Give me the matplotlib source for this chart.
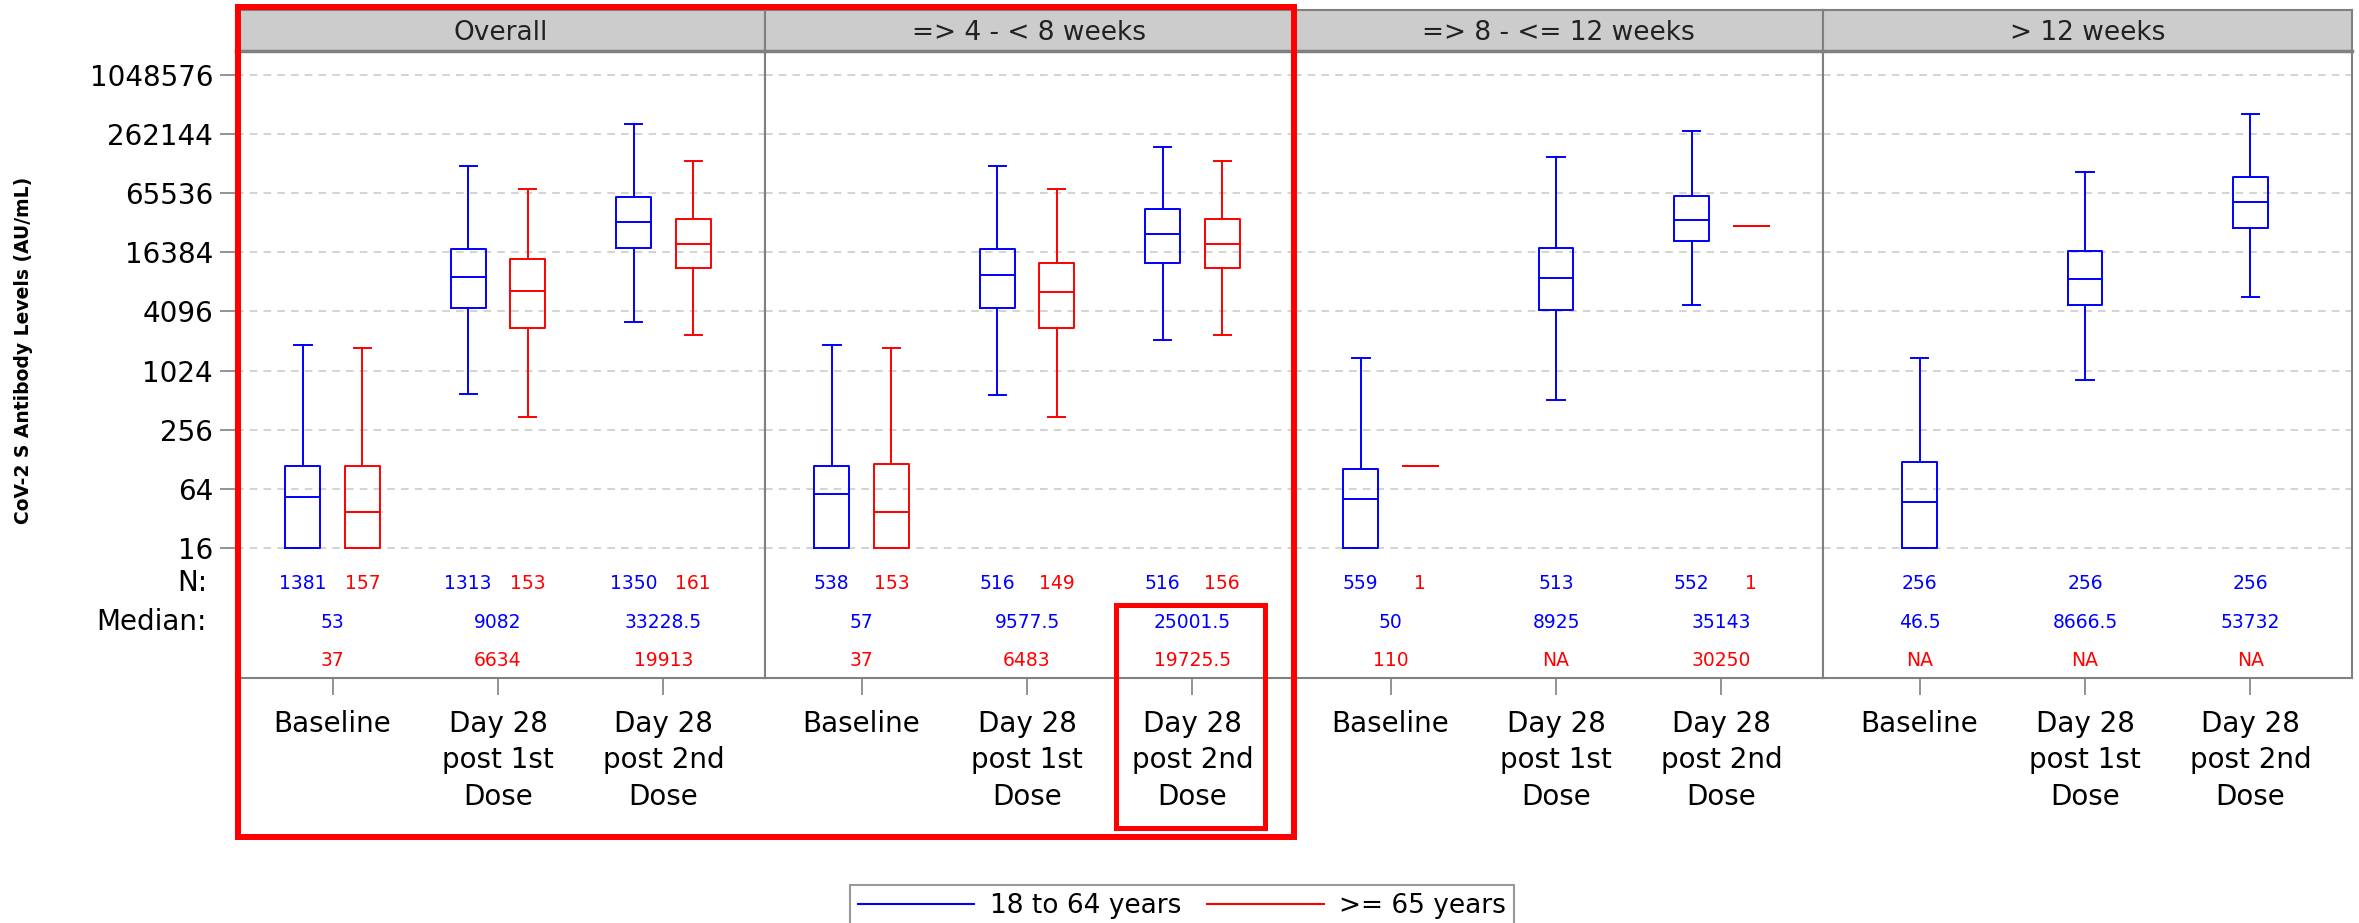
import matplotlib
matplotlib.use("Agg")
import matplotlib.pyplot as plt
from matplotlib.patches import Rectangle
from matplotlib.ticker import NullLocator
from matplotlib.transforms import blended_transform_factory

plt.rcParams["font.family"] = ["DejaVu Sans"]

# ---------------------------------------------------------------------------
# Data
# ---------------------------------------------------------------------------
panels = ["Overall", "=> 4 - < 8 weeks", "=> 8 - <= 12 weeks", "> 12 weeks"]
categories = ["Baseline", "Day 28\npost 1st\nDose", "Day 28\npost 2nd\nDose"]
groups = ["18 to 64 years", ">= 65 years"]

# 18 to 64 years: whisker low, Q1, median, Q3, whisker high  [panel][category]
young_whislo = [[16, 593, 3220], [16, 573, 2100], [16, 509, 4780], [16, 815, 5800]]
young_q1 = [[16, 4480, 18300], [16, 4480, 12750], [16, 4240, 21200], [16, 4740, 29200]]
young_med = [[53, 9082, 33228.5], [57, 9577.5, 25001.5], [50, 8925, 35143], [46.5, 8666.5, 53732]]
young_q3 = [[109, 17700, 59500], [109, 17700, 45100], [101, 18300, 61500], [119, 16800, 95000]]
young_whishi = [[1860, 125000, 334000], [1860, 125000, 194000], [1370, 154000, 285000], [1370, 107000, 420000]]
young_n = [[1381, 1313, 1350], [538, 516, 516], [559, 513, 552], [256, 256, 256]]

# >= 65 years (None = no data)
old_whislo = [[16, 344, 2370], [16, 344, 2370], [110, None, 30250], [None, None, None]]
old_q1 = [[16, 2800, 11400], [16, 2800, 11400], [110, None, 30250], [None, None, None]]
old_med = [[37, 6634, 19913], [37, 6483, 19725.5], [110, None, 30250], [None, None, None]]
old_q3 = [[109, 13900, 35700], [114, 12750, 35700], [110, None, 30250], [None, None, None]]
old_whishi = [[1734, 72000, 140000], [1734, 72000, 140000], [110, None, 30250], [None, None, None]]
old_n = [[157, 153, 161], [153, 149, 156], [1, None, 1], [None, None, None]]

yticks = [16, 64, 256, 1024, 4096, 16384, 65536, 262144, 1048576]

BLUE = "#0000ff"
RED = "#ff0000"
GREY = "#808080"

W, H = 2359, 923


def fx(px):
    return px / W


def fy(py):
    return 1 - py / H


def med_label(v):
    return "NA" if v is None else f"{v:g}"


fig = plt.figure(figsize=(W / 100, H / 100), dpi=100)

left_px, right_px = 236, 2352
top_px, bottom_px, head_top_px = 51, 678, 10
pw = (right_px - left_px) / 4
offset, bw = 0.18, 0.21

axes = []
for i, title in enumerate(panels):
    x0 = left_px + i * pw
    ax = fig.add_axes([fx(x0), fy(bottom_px), pw / W, (bottom_px - top_px) / H])
    axes.append(ax)
    ax.set_yscale("log", base=2)
    ax.set_ylim(2 ** -0.40, 2 ** 20.81)
    ax.set_xlim(0.416, 3.614)

    for j in range(len(categories)):
        has_old = old_q1[i][j] is not None
        pos_y = j + 1 - offset if has_old else j + 1
        st = dict(whislo=young_whislo[i][j], q1=young_q1[i][j], med=young_med[i][j],
                  q3=young_q3[i][j], whishi=young_whishi[i][j], fliers=[])
        props = dict(color=BLUE, linewidth=1.4)
        ax.bxp([st], positions=[pos_y], widths=bw, showfliers=False,
               boxprops=props, whiskerprops=props, capprops=props,
               medianprops=props, manage_ticks=False)
        if has_old:
            st = dict(whislo=old_whislo[i][j], q1=old_q1[i][j], med=old_med[i][j],
                      q3=old_q3[i][j], whishi=old_whishi[i][j], fliers=[])
            props = dict(color=RED, linewidth=1.4)
            ax.bxp([st], positions=[j + 1 + offset], widths=bw, showfliers=False,
                   boxprops=props, whiskerprops=props, capprops=props,
                   medianprops=props, manage_ticks=False)

        # statistics table inside the panel
        tr = blended_transform_factory(ax.transData, ax.transAxes)
        if old_n[i][j] is not None:
            ax.text(j + 1 - offset, 0.1515, str(young_n[i][j]), color=BLUE,
                    transform=tr, ha="center", va="center", fontsize=13.5)
            ax.text(j + 1 + offset, 0.1515, str(old_n[i][j]), color=RED,
                    transform=tr, ha="center", va="center", fontsize=13.5)
        else:
            ax.text(j + 1, 0.1515, str(young_n[i][j]), color=BLUE,
                    transform=tr, ha="center", va="center", fontsize=13.5)
        ax.text(j + 1, 0.0893, med_label(young_med[i][j]), color=BLUE,
                transform=tr, ha="center", va="center", fontsize=13.5)
        ax.text(j + 1, 0.0287, med_label(old_med[i][j]), color=RED,
                transform=tr, ha="center", va="center", fontsize=13.5)

    ax.set_yticks(yticks)
    ax.set_yticklabels([str(t) for t in yticks])
    ax.yaxis.set_minor_locator(NullLocator())
    ax.grid(axis="y", linestyle=(0, (5, 4)), color="#c8c8c8", linewidth=1.1)
    ax.set_axisbelow(True)
    ax.set_xticks([1, 2, 3])
    ax.set_xticklabels(categories, fontsize=20, linespacing=1.38)
    ax.tick_params(axis="x", length=12, color=GREY, pad=11, width=1.2)
    if i == 0:
        ax.tick_params(axis="y", length=11.5, color=GREY, labelsize=20, pad=5, width=1.2)
    else:
        ax.tick_params(axis="y", length=0, labelleft=False)
    for s in ax.spines.values():
        s.set_color(GREY)
        s.set_linewidth(1.5)

    # strip header
    hax = fig.add_axes([fx(x0), fy(top_px), pw / W, (top_px - head_top_px) / H])
    hax.set_facecolor("#cccccc")
    hax.set_xticks([])
    hax.set_yticks([])
    for s in hax.spines.values():
        s.set_color(GREY)
        s.set_linewidth(1.5)
    hax.spines["bottom"].set_linewidth(2.5)
    hax.text(0.5, 0.45, title, ha="center", va="center", fontsize=19, color="#222222")

fig.text(fx(24), fy(350), "CoV-2 S Antibody Levels (AU/mL)", rotation=90,
         ha="center", va="center", fontsize=13.5, fontweight="bold")
fig.text(fx(207), fy(583), "N:", ha="right", va="center", fontsize=20)
fig.text(fx(207), fy(622), "Median:", ha="right", va="center", fontsize=20)

# legend
handles = [plt.Line2D([], [], color=BLUE, lw=1.5), plt.Line2D([], [], color=RED, lw=1.5)]
leg = fig.legend(handles, groups, loc="upper center", ncol=2,
                 bbox_to_anchor=(fx(1182), fy(885)), borderaxespad=0,
                 fontsize=19, frameon=True,
                 fancybox=False, handlelength=4.4, handletextpad=0.6,
                 columnspacing=1.0, borderpad=0.3)
leg.get_frame().set_edgecolor(GREY)
leg.get_frame().set_linewidth(1.5)

# red highlight boxes
fig.patches.append(Rectangle((fx(238), fy(837)), (1294 - 238) / W, (837 - 6.5) / H,
                             transform=fig.transFigure, fill=False,
                             edgecolor=RED, linewidth=4.3, zorder=10))
fig.patches.append(Rectangle((fx(1115.5), fy(827.5)), (1264.5 - 1115.5) / W,
                             (827.5 - 604.5) / H, transform=fig.transFigure,
                             fill=False, edgecolor=RED, linewidth=3.6, zorder=10))

fig.savefig("out.png", dpi=100)
